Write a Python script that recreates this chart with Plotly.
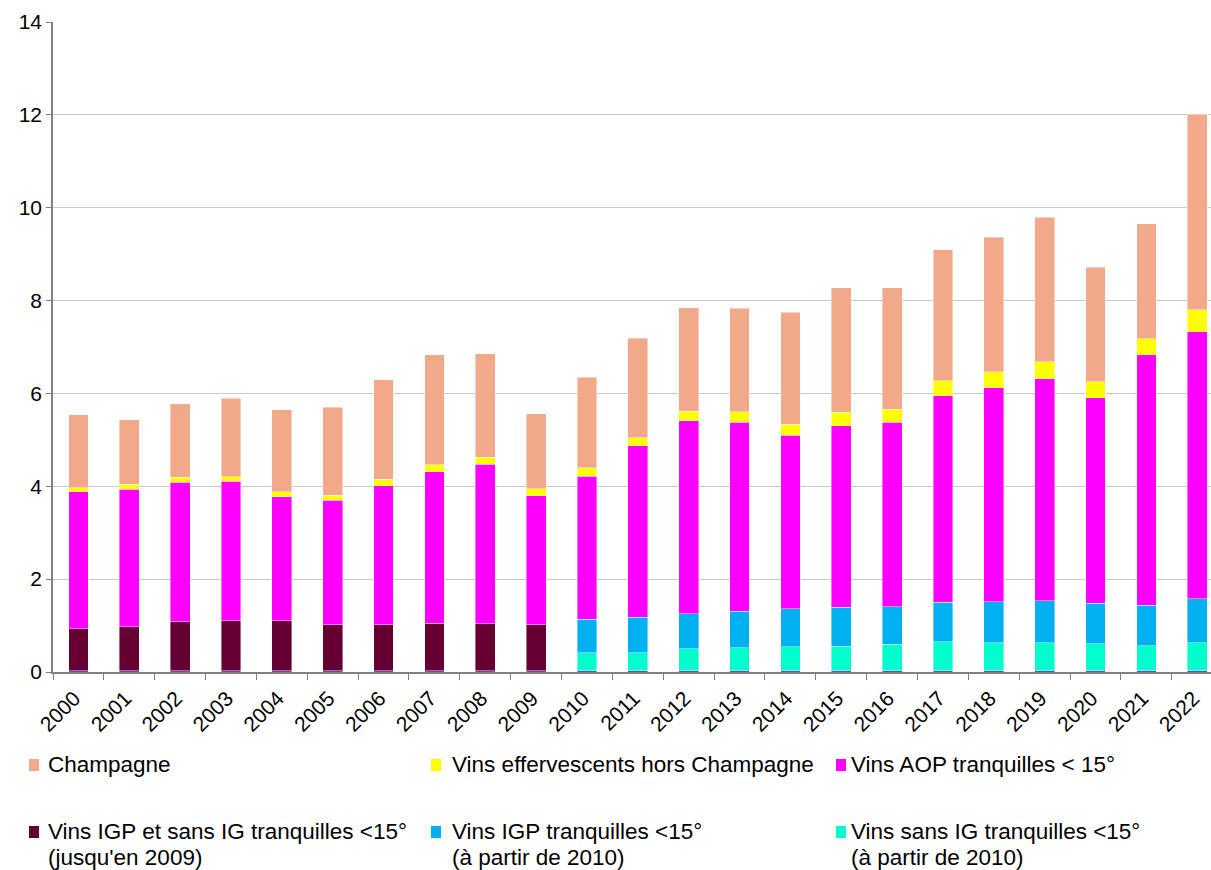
import plotly.graph_objects as go

years = [str(y) for y in range(2000, 2023)]

autres = [0.03] * 23
igp_sans_ig = [0.90, 0.95, 1.05, 1.07, 1.07, 0.99, 0.99, 1.02, 1.01, 0.99] + [None] * 13
sans_ig = [None] * 10 + [0.38, 0.39, 0.47, 0.49, 0.51, 0.53, 0.57, 0.62, 0.60, 0.60, 0.58, 0.54, 0.60]
igp = [None] * 10 + [0.73, 0.76, 0.75, 0.79, 0.82, 0.84, 0.81, 0.85, 0.88, 0.91, 0.87, 0.87, 0.95]
aop = [2.95, 2.96, 3.01, 3.01, 2.68, 2.68, 2.99, 3.26, 3.43, 2.78,
       3.08, 3.69, 4.16, 4.07, 3.74, 3.90, 3.97, 4.45, 4.61, 4.78, 4.43, 5.39, 5.75]
effervescents = [0.09, 0.10, 0.10, 0.10, 0.10, 0.11, 0.14, 0.15, 0.16, 0.15,
                 0.18, 0.18, 0.21, 0.23, 0.24, 0.29, 0.28, 0.32, 0.35, 0.36, 0.34, 0.35, 0.47]
champagne = [1.57, 1.39, 1.59, 1.69, 1.77, 1.89, 2.15, 2.37, 2.22, 1.61,
             1.95, 2.14, 2.23, 2.22, 2.41, 2.69, 2.62, 2.83, 2.89, 3.11, 2.47, 2.47, 4.21]

series = [
    ("Autres", autres, "#7B3FC4"),
    ("Vins IGP et sans IG tranquilles <15°<br>(jusqu'en 2009)", igp_sans_ig, "#660033"),
    ("Vins sans IG tranquilles <15°<br>(à partir de 2010)", sans_ig, "#00FFCC"),
    ("Vins IGP tranquilles <15°<br>(à partir de 2010)", igp, "#00B0F0"),
    ("Vins AOP tranquilles < 15°", aop, "#FF00FF"),
    ("Vins effervescents hors Champagne", effervescents, "#FFFF00"),
    ("Champagne", champagne, "#F2A98A"),
]

FONT = "Arial, 'Liberation Sans', sans-serif"

fig = go.Figure()
for name, vals, col in series:
    fig.add_trace(go.Bar(
        x=years, y=vals, name=name, marker_color=col,
        marker_line=dict(color="rgba(255,255,255,0.7)", width=0.6),
        showlegend=False,
    ))

fig.update_layout(
    barmode="stack",
    bargap=0.61,
    width=1211, height=870,
    margin=dict(l=53, r=0, t=22, b=198),
    plot_bgcolor="white", paper_bgcolor="white",
    font=dict(family=FONT, size=21, color="black"),
)
fig.update_xaxes(
    type="category", range=[-0.5, 22.27],
    tickangle=-45, tickson="boundaries",
    ticks="outside", ticklen=6, tickcolor="#808080",
    showline=True, linecolor="#808080", linewidth=1.5,
    showgrid=False, tickfont=dict(size=21),
    ticklabelstandoff=4, ticklabelshift=-4,
)
fig.update_yaxes(
    range=[0, 14], dtick=2, ticks="outside", ticklen=5, tickcolor="#808080",
    showline=True, linecolor="#808080", linewidth=1.5,
    showgrid=True, gridcolor="#C8C8C8", gridwidth=1,
    tickfont=dict(size=21), zeroline=False,
)

# manual legend
legend_items = [
    (29, 759, "Champagne", None, "#F2A98A", 46),
    (431, 759, "Vins effervescents hors Champagne", None, "#FFFF00", 450),
    (836, 759, "Vins AOP tranquilles < 15°", None, "#FF00FF", 849),
    (29, 826, "Vins IGP et sans IG tranquilles <15°", "(jusqu'en 2009)", "#660033", 46),
    (431, 826, "Vins IGP tranquilles <15°", "(à partir de 2010)", "#00B0F0", 450),
    (836, 826, "Vins sans IG tranquilles <15°", "(à partir de 2010)", "#00FFCC", 849),
]
W, H = 1211, 870
LFS = 22.5
for mx, my, l1, l2, col, tx in legend_items:
    fig.add_shape(type="rect", xref="paper", yref="paper",
                  x0=(mx - 53) / (W - 53), x1=(mx + 10 - 53) / (W - 53),
                  y0=(672 - my - 12) / 650, y1=(672 - my) / 650,
                  fillcolor=col, line_width=0)
    cy = my + 5.5
    fig.add_annotation(xref="paper", yref="paper",
                       x=(tx - 53) / (W - 53), y=(672 - cy) / 650,
                       text=l1, showarrow=False, xanchor="left", yanchor="middle",
                       font=dict(size=LFS), align="left")
    if l2:
        fig.add_annotation(xref="paper", yref="paper",
                           x=(tx - 53) / (W - 53), y=(672 - cy - 26) / 650,
                           text=l2, showarrow=False, xanchor="left", yanchor="middle",
                           font=dict(size=LFS), align="left")

fig.write_html(
    "out.html",
    config={"displayModeBar": False},
    post_script="document.body.style.margin='0';document.body.style.overflow='hidden';",
)
